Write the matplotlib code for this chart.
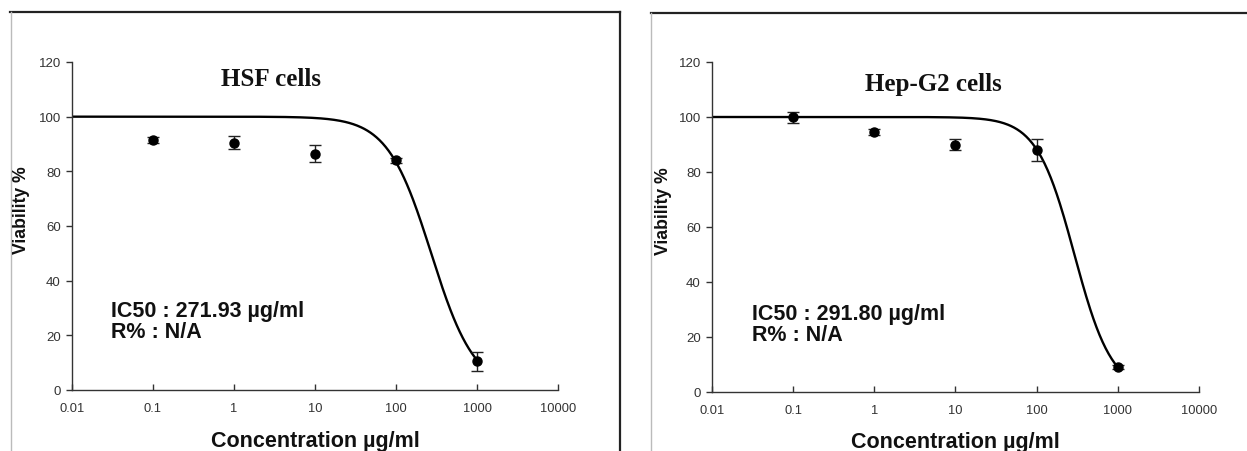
import numpy as np
import matplotlib
matplotlib.use("Agg")
import matplotlib.pyplot as plt
from matplotlib.lines import Line2D
from matplotlib.ticker import FixedLocator, FixedFormatter

# --- data ---
conc = [0.1, 1, 10, 100, 1000]
conc_ticks = [0.01, 0.1, 1, 10, 100, 1000, 10000]
conc_labels = ["0.01", "0.1", "1", "10", "100", "1000", "10000"]

hsf_viab = [91.5, 90.5, 86.5, 84.0, 10.5]
hsf_err = [1.0, 2.5, 3.0, 1.0, 3.5]
hsf_ic50 = 271.93
hsf_hill = 1.61

hep_viab = [100.0, 94.5, 90.0, 88.0, 9.0]
hep_err = [2.0, 1.0, 2.0, 4.0, 0.8]
hep_ic50 = 291.80
hep_hill = 1.88

titles = ["HSF cells", "Hep-G2 cells"]
notes = ["IC50 : 271.93 \u00b5g/ml\nR% : N/A", "IC50 : 291.80 \u00b5g/ml\nR% : N/A"]

W, H = 1247, 452
fig = plt.figure(figsize=(W / 100, H / 100), dpi=100)
fig.patch.set_facecolor("white")

sans = "Liberation Sans"
serif = "Liberation Serif"


def px(x, y):
    return x / W, 1 - y / H


# panel frames (scanned figure borders)
frame = [
    ((10, 13), (620, 13), "#222222", 1.6),
    ((620, 13), (620, 452), "#222222", 1.6),
    ((11, 13), (11, 452), "#bbbbbb", 1.0),
    ((651, 14), (1247, 14), "#222222", 1.6),
    ((651, 14), (651, 452), "#bbbbbb", 1.0),
]
for (x0, y0), (x1, y1), c, lw in frame:
    a, b = px(x0, y0)
    cc, d = px(x1, y1)
    fig.add_artist(Line2D([a, cc], [b, d], color=c, lw=lw, transform=fig.transFigure))

panels = [
    dict(box=(72, 63, 558, 391), viab=hsf_viab, err=hsf_err, ic50=hsf_ic50, hill=hsf_hill,
         title_xy=(2.9, 113.8), note_xy=(0.03, 25.3), ylab=(22, 210), xlab_y=442),
    dict(box=(712, 63, 1199, 393), viab=hep_viab, err=hep_err, ic50=hep_ic50, hill=hep_hill,
         title_xy=(5.3, 112.3), note_xy=(0.031, 24.8), ylab=(664, 211), xlab_y=443),
]

for i, p in enumerate(panels):
    x0, y0, x1, y1 = p["box"]
    ax = fig.add_axes([x0 / W, 1 - y1 / H, (x1 - x0) / W, (y1 - y0) / H])
    ax.set_xscale("log")
    ax.set_xlim(0.01, 10000)
    ax.set_ylim(0, 120)
    for s in ["top", "right"]:
        ax.spines[s].set_visible(False)
    for s in ["left", "bottom"]:
        ax.spines[s].set_color("#333333")
        ax.spines[s].set_linewidth(1.0)

    # fitted dose-response curve
    xc = np.logspace(-2, 3, 400)
    yc = 100 / (1 + (xc / p["ic50"]) ** p["hill"])
    ax.plot(xc, yc, color="black", lw=1.7)

    ax.errorbar(conc, p["viab"], yerr=p["err"], fmt="o", color="black", ms=6.5,
                ecolor="#222222", elinewidth=1.0, capsize=4, capthick=1.0)

    ax.xaxis.set_major_locator(FixedLocator(conc_ticks))
    ax.xaxis.set_major_formatter(FixedFormatter(conc_labels))
    ax.xaxis.set_minor_locator(FixedLocator([]))
    ax.set_yticks([0, 20, 40, 60, 80, 100, 120])
    ax.tick_params(axis="x", direction="in", length=4, width=1, color="#333333",
                   labelsize=9.3, labelcolor="#333333", pad=9)
    ax.tick_params(axis="y", direction="out", length=4, width=1, color="#333333",
                   labelsize=9.5, labelcolor="#333333", pad=4)
    for lab in ax.get_xticklabels() + ax.get_yticklabels():
        lab.set_fontfamily(sans)

    ax.text(p["title_xy"][0], p["title_xy"][1], titles[i], ha="center", va="center",
            fontsize=18, fontweight="bold", family=serif, color="#111111")
    ax.text(p["note_xy"][0], p["note_xy"][1], notes[i], ha="left", va="center",
            fontsize=15.5, fontweight="bold", family=sans, color="#111111", linespacing=1.0)

    fx, fy = px(*p["ylab"])
    fig.text(fx, fy, "Viability %", rotation=90, ha="center", va="center",
             fontsize=12.7, fontweight="bold", family=sans, color="#111111")
    fx, fy = px((x0 + x1) / 2, p["xlab_y"])
    fig.text(fx, fy, "Concentration \u00b5g/ml", ha="center", va="center",
             fontsize=15.5, fontweight="bold", family=sans, color="#111111")

fig.savefig("out.png", dpi=100, facecolor="white")
